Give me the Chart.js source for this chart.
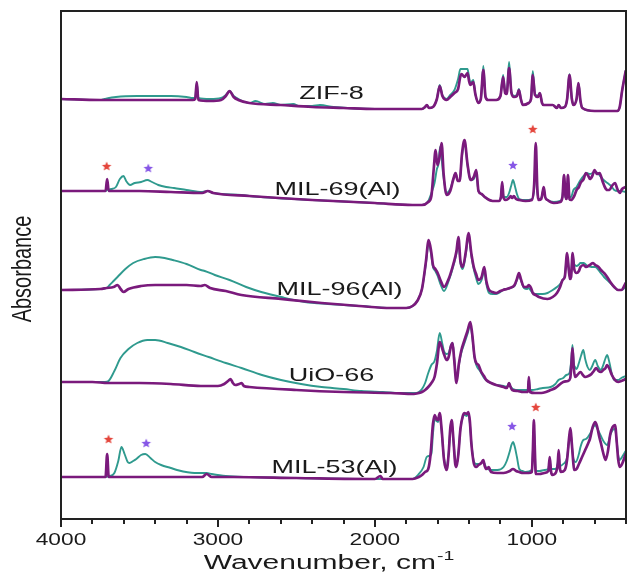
<!DOCTYPE html>
<html><head><meta charset="utf-8">
<script src="https://cdn.jsdelivr.net/npm/chart.js@4.4.1/dist/chart.umd.min.js"></script>
<style>html,body{margin:0;padding:0;background:#fff;}#wrap{width:632px;height:573px;}</style>
</head><body><div id="wrap"><canvas id="c" width="632" height="573"></canvas></div>
<script>
// ---- axis labels / names ----
const xTickLabels = [4000, 3000, 2000, 1000];
const sampleNames = ['ZIF-8', 'MIL-69(Al)', 'MIL-96(Al)', 'UiO-66', 'MIL-53(Al)'];
const sampleLabelAt = [[2276, 42.5], [2238, 32.9], [2225, 22.9], [2276, 14.3], [2257, 5.1]];

// ---- spectra: [wavenumber cm-1, stacked absorbance (a.u.)] ----
const zif8Purple = [[4000,42.0],[3750,41.9],[3400,41.9],[3160,41.9],[3145,42.0],[3135,43.7],[3125,41.9],[3050,41.8],[2980,41.9],[2950,42.3],[2926,42.8],[2900,42.2],[2870,41.9],[2800,41.6],[2600,41.4],[2400,41.2],[2200,41.1],[2000,41.0],[1800,41.0],[1700,41.0],[1680,41.2],[1669,41.4],[1655,41.1],[1630,41.2],[1605,42.0],[1587,43.3],[1570,42.3],[1543,41.9],[1520,42.2],[1493,42.6],[1470,43.0],[1455,44.3],[1448,44.5],[1429,44.2],[1410,44.6],[1400,43.8],[1392,43.4],[1373,43.7],[1360,42.5],[1341,41.6],[1325,42.0],[1309,44.9],[1295,42.2],[1278,41.9],[1227,41.9],[1200,42.3],[1183,44.2],[1170,42.6],[1160,42.5],[1145,45.1],[1130,42.6],[1114,42.2],[1095,42.3],[1082,42.9],[1070,42.0],[1057,41.4],[1020,41.6],[1005,42.0],[994,44.4],[980,42.4],[962,42.2],[949,42.6],[935,41.6],[924,41.4],[867,41.4],[840,41.1],[829,41.4],[815,41.1],[790,41.2],[775,42.0],[760,44.4],[745,42.0],[735,41.4],[715,42.0],[703,43.6],[690,41.8],[678,41.1],[600,40.8],[500,40.8],[455,40.8],[440,41.2],[425,42.8],[402,44.8]];
const zif8Teal = [[4000,42.0],[3750,41.9],[3722,42.0],[3650,42.2],[3514,42.3],[3400,42.3],[3300,42.3],[3200,42.2],[3160,42.1],[3145,42.1],[3135,43.6],[3125,42.1],[3050,42.0],[2980,42.1],[2950,42.4],[2926,42.8],[2900,42.3],[2870,42.0],[2800,41.6],[2760,41.8],[2700,41.5],[2650,41.6],[2600,41.4],[2520,41.5],[2480,41.3],[2400,41.3],[2350,41.4],[2263,41.2],[2000,41.0],[1800,41.0],[1700,41.0],[1680,41.2],[1669,41.4],[1655,41.1],[1630,41.2],[1605,42.0],[1587,43.4],[1570,42.4],[1543,42.0],[1520,42.4],[1493,42.9],[1470,44.0],[1455,45.0],[1430,45.0],[1410,45.0],[1400,44.2],[1392,43.6],[1373,43.9],[1360,42.5],[1341,41.7],[1325,42.0],[1309,45.3],[1295,42.2],[1278,41.9],[1227,41.9],[1200,42.3],[1183,44.4],[1170,42.7],[1160,42.6],[1145,45.7],[1130,42.7],[1114,42.3],[1095,42.4],[1082,43.0],[1070,42.0],[1057,41.4],[1020,41.6],[1005,42.1],[994,44.8],[980,42.5],[962,42.3],[949,42.6],[935,41.6],[924,41.4],[867,41.4],[840,41.1],[829,41.4],[815,41.1],[790,41.2],[775,42.0],[760,44.5],[745,42.0],[735,41.4],[715,42.0],[703,43.6],[690,41.8],[678,41.1],[600,40.8],[500,40.8],[455,40.8],[440,41.2],[425,42.8],[402,44.8]];

const mil69Purple = [[4000,32.8],[3760,32.8],[3716,32.8],[3706,34.0],[3696,32.8],[3500,32.8],[3300,32.7],[3100,32.6],[3065,32.8],[3030,32.6],[2800,32.3],[2400,31.9],[2000,31.6],[1760,31.4],[1700,31.4],[1660,31.7],[1640,32.3],[1625,35.0],[1613,36.9],[1602,35.4],[1590,36.0],[1575,37.6],[1562,34.5],[1543,32.4],[1520,32.8],[1500,34.0],[1486,34.6],[1472,33.8],[1460,33.8],[1445,36.5],[1429,37.9],[1410,35.5],[1390,33.9],[1370,34.2],[1354,34.9],[1340,32.8],[1320,32.5],[1300,32.2],[1250,31.8],[1210,31.8],[1197,32.2],[1189,33.7],[1180,32.1],[1165,31.9],[1145,32.1],[1135,32.3],[1125,32.1],[1115,32.3],[1100,32.0],[1080,31.9],[1040,31.8],[1000,31.9],[985,33.5],[975,37.6],[965,33.0],[955,31.9],[940,32.0],[930,32.8],[924,33.2],[915,32.2],[900,31.9],[860,31.6],[820,31.7],[805,32.2],[795,34.4],[785,32.2],[778,32.0],[770,34.4],[760,32.0],[750,31.9],[730,32.3],[715,32.9],[700,33.2],[690,33.6],[670,34.0],[655,34.6],[640,34.3],[630,34.0],[615,34.3],[600,34.9],[585,34.5],[568,34.6],[550,33.8],[535,33.2],[520,32.9],[505,32.9],[490,33.3],[470,33.6],[455,33.0],[440,32.6],[425,33.0],[402,33.2]];
const mil69Teal = [[4000,32.8],[3760,32.8],[3716,32.8],[3706,32.9],[3680,33.0],[3650,33.2],[3625,34.0],[3602,34.3],[3585,33.8],[3560,33.4],[3530,33.6],[3490,33.7],[3450,33.9],[3420,33.7],[3380,33.4],[3330,33.2],[3280,33.1],[3200,32.9],[3100,32.7],[3065,32.8],[3030,32.6],[2850,32.4],[2800,32.3],[2400,31.9],[2000,31.6],[1760,31.4],[1700,31.4],[1660,31.8],[1640,32.6],[1620,33.6],[1605,35.0],[1595,35.5],[1585,37.2],[1565,34.5],[1543,32.6],[1520,33.0],[1500,34.0],[1486,34.6],[1472,33.8],[1460,33.8],[1445,36.3],[1429,37.7],[1410,35.4],[1390,33.9],[1370,34.0],[1354,34.5],[1340,32.8],[1320,32.5],[1300,32.2],[1250,31.8],[1210,31.8],[1197,32.2],[1189,33.4],[1180,32.2],[1160,32.2],[1145,32.6],[1132,33.3],[1120,33.9],[1108,33.3],[1095,32.5],[1080,32.0],[1040,31.9],[1000,32.0],[985,33.0],[975,36.5],[965,32.8],[955,32.0],[940,32.1],[924,33.0],[915,32.2],[900,31.9],[860,31.7],[820,31.8],[805,32.2],[795,34.0],[785,32.2],[778,32.0],[770,34.0],[760,32.2],[750,32.2],[735,32.9],[715,33.2],[690,33.9],[670,34.3],[650,34.6],[630,34.5],[596,34.7],[575,34.5],[555,34.1],[535,33.8],[518,33.6],[495,33.3],[475,32.9],[450,32.8],[430,32.8],[402,32.7]];

const mil96Purple = [[4000,22.9],[3750,23.0],[3710,23.1],[3665,23.2],[3640,23.4],[3620,23.0],[3602,22.7],[3570,23.0],[3490,23.3],[3400,23.4],[3287,23.4],[3200,23.4],[3109,23.3],[3084,23.4],[3050,23.1],[2950,22.8],[2850,22.4],[2600,22.0],[2339,21.6],[2100,21.3],[1900,21.1],[1800,21.1],[1760,21.3],[1730,21.8],[1700,23.0],[1676,25.6],[1657,27.9],[1640,26.6],[1630,25.4],[1615,25.0],[1600,24.6],[1580,23.8],[1560,23.2],[1530,24.0],[1500,25.5],[1480,26.8],[1468,28.2],[1455,25.8],[1440,25.2],[1420,26.8],[1404,28.6],[1385,26.5],[1370,25.2],[1355,24.5],[1341,23.9],[1320,24.2],[1303,25.2],[1290,23.8],[1272,22.9],[1250,22.7],[1227,22.6],[1200,22.8],[1183,22.9],[1160,23.0],[1140,23.1],[1110,23.4],[1095,24.0],[1082,24.6],[1070,24.0],[1050,23.2],[1030,23.2],[1020,23.4],[1005,23.1],[994,22.6],[975,22.4],[955,22.2],[900,22.0],[867,22.2],[840,22.6],[820,23.2],[804,23.9],[790,24.2],[775,26.6],[765,25.0],[757,24.0],[750,24.2],[740,26.6],[730,25.0],[715,24.6],[700,24.8],[690,25.2],[670,25.4],[655,25.2],[630,25.4],[610,25.6],[596,25.4],[575,25.2],[560,24.9],[540,24.6],[520,24.2],[500,23.7],[475,23.2],[450,22.9],[430,22.9],[402,23.6]];
const mil96Teal = [[4000,22.9],[3750,23.0],[3710,23.1],[3690,23.4],[3665,23.8],[3640,24.2],[3590,25.0],[3540,25.6],[3470,26.0],[3400,26.2],[3340,26.1],[3287,25.9],[3200,25.5],[3109,24.9],[3084,24.8],[3020,24.4],[2926,23.9],[2820,23.2],[2724,22.7],[2598,22.2],[2446,21.7],[2300,21.5],[2086,21.3],[1900,21.1],[1800,21.1],[1760,21.3],[1730,21.8],[1700,23.0],[1676,25.4],[1657,27.6],[1640,26.3],[1630,25.2],[1615,24.8],[1600,24.3],[1580,23.4],[1560,22.8],[1530,23.8],[1500,25.3],[1480,26.6],[1468,27.9],[1455,25.6],[1440,25.0],[1420,26.6],[1404,28.3],[1385,26.3],[1370,25.0],[1355,24.1],[1341,23.5],[1320,23.9],[1303,24.9],[1290,23.5],[1272,22.6],[1250,22.5],[1227,22.5],[1200,22.7],[1183,22.9],[1160,23.0],[1140,23.1],[1110,23.3],[1095,23.9],[1082,24.4],[1070,23.9],[1050,23.1],[1030,23.0],[1020,23.1],[1005,22.8],[994,22.6],[960,22.5],[930,22.5],[900,22.6],[867,22.9],[840,23.2],[820,23.5],[804,23.9],[790,24.3],[775,26.3],[765,25.0],[757,24.3],[750,24.5],[740,26.3],[730,25.5],[715,25.3],[703,25.4],[690,25.6],[670,25.6],[645,25.3],[620,25.2],[596,25.2],[570,24.8],[540,24.2],[500,23.6],[470,23.1],[450,22.9],[430,22.9],[402,23.2]];

const uio66Purple = [[4000,13.7],[3800,13.7],[3700,13.6],[3500,13.6],[3300,13.5],[3109,13.3],[3000,13.3],[2960,13.5],[2935,13.8],[2920,14.0],[2905,13.6],[2890,13.4],[2865,13.5],[2850,13.6],[2835,13.3],[2800,13.2],[2500,12.9],[2200,12.7],[1900,12.6],[1752,12.5],[1720,12.6],[1700,12.7],[1680,12.9],[1660,13.2],[1640,13.6],[1620,14.2],[1605,15.5],[1587,17.7],[1570,17.0],[1560,16.5],[1543,15.9],[1530,16.2],[1515,17.3],[1505,17.6],[1495,16.0],[1480,13.6],[1465,15.5],[1450,16.8],[1429,17.9],[1410,18.8],[1392,19.7],[1380,18.5],[1365,16.2],[1354,15.6],[1340,15.4],[1322,14.7],[1305,14.3],[1290,13.9],[1260,13.6],[1227,13.4],[1180,13.2],[1160,13.1],[1150,13.4],[1145,13.6],[1138,13.3],[1125,12.9],[1090,12.8],[1057,12.7],[1025,12.7],[1019,14.2],[1012,12.7],[980,12.6],[940,12.6],[910,12.7],[880,12.9],[850,13.1],[800,13.7],[770,13.8],[755,14.1],[748,15.5],[741,17.1],[733,15.2],[725,14.2],[710,14.4],[690,14.7],[675,14.4],[660,14.2],[640,14.3],[620,14.5],[605,14.8],[590,15.1],[575,14.8],[560,14.7],[545,14.9],[530,15.1],[520,15.4],[505,15.0],[490,14.4],[470,13.9],[450,13.7],[430,13.8],[402,14.0]];
const uio66Teal = [[4000,13.7],[3800,13.7],[3720,13.7],[3697,13.8],[3660,14.8],[3621,16.1],[3570,17.0],[3514,17.6],[3450,17.9],[3400,17.9],[3320,17.6],[3236,17.2],[3150,16.7],[3059,16.2],[2950,15.6],[2850,15.1],[2720,14.4],[2598,13.9],[2470,13.5],[2339,13.2],[2200,13.0],[2086,12.8],[1950,12.7],[1834,12.6],[1752,12.6],[1720,12.7],[1700,13.0],[1680,13.6],[1660,14.6],[1640,15.4],[1620,15.8],[1605,16.8],[1587,18.6],[1570,17.5],[1560,16.8],[1543,16.5],[1530,16.6],[1515,17.4],[1505,17.6],[1495,16.2],[1480,13.9],[1465,15.4],[1450,16.6],[1429,17.6],[1410,18.5],[1392,19.4],[1380,18.3],[1365,16.2],[1354,15.4],[1330,14.8],[1300,14.0],[1260,13.6],[1227,13.4],[1180,13.3],[1160,13.2],[1145,13.6],[1138,13.3],[1120,13.0],[1080,12.9],[1040,12.9],[1025,12.9],[1019,13.9],[1012,12.9],[1000,12.9],[960,13.0],[930,13.1],[880,13.2],[850,13.5],[830,13.9],[800,14.1],[780,14.4],[760,14.6],[748,16.0],[741,17.4],[733,15.6],[725,15.2],[715,15.0],[700,15.6],[685,16.4],[672,16.9],[660,16.0],[645,15.2],[630,14.9],[615,15.3],[596,15.9],[580,15.3],[560,14.9],[545,15.4],[530,16.1],[520,16.4],[505,15.6],[490,14.5],[475,13.9],[450,13.9],[430,14.1],[402,14.3]];

const mil53Purple = [[4000,4.2],[3800,4.2],[3716,4.2],[3706,6.5],[3696,4.2],[3500,4.2],[3300,4.2],[3100,4.2],[3072,4.5],[3040,4.2],[2900,4.2],[2500,4.1],[2000,4.0],[1965,4.3],[1950,4.0],[1800,4.0],[1760,4.0],[1720,4.2],[1700,4.4],[1680,4.7],[1660,5.0],[1645,6.5],[1630,9.5],[1619,10.4],[1608,10.0],[1598,9.9],[1587,10.6],[1575,9.0],[1560,6.0],[1543,4.9],[1530,6.5],[1520,9.0],[1511,9.9],[1500,8.0],[1488,5.5],[1480,5.2],[1468,6.5],[1455,9.0],[1440,10.3],[1429,10.6],[1415,10.5],[1404,10.7],[1395,9.8],[1385,7.5],[1370,5.6],[1355,5.2],[1340,5.4],[1322,5.6],[1309,5.9],[1300,5.3],[1290,5.0],[1275,5.2],[1260,4.7],[1220,4.6],[1180,4.6],[1140,4.8],[1120,5.0],[1100,4.8],[1080,4.7],[1057,4.6],[1020,4.6],[1000,4.7],[993,7.0],[987,9.9],[981,7.0],[975,4.5],[950,4.5],[920,4.6],[895,4.8],[886,6.2],[878,4.8],[870,4.4],[845,4.7],[835,5.5],[829,6.9],[822,5.2],[815,4.7],[790,4.9],[775,6.0],[762,8.2],[754,9.1],[745,7.5],[735,5.5],[730,4.9],[715,5.0],[700,5.5],[680,6.2],[660,6.9],[640,7.6],[630,8.0],[612,9.2],[596,9.7],[585,9.3],[570,8.2],[560,7.6],[545,6.6],[530,5.9],[515,6.8],[500,8.5],[485,9.2],[470,9.4],[458,7.5],[450,6.0],[440,5.2],[425,5.5],[402,6.5]];
const mil53Teal = [[4000,4.2],[3800,4.2],[3720,4.2],[3690,4.3],[3660,4.6],[3635,5.8],[3615,7.2],[3595,6.5],[3575,5.7],[3564,5.6],[3540,5.8],[3520,6.0],[3490,6.4],[3463,6.5],[3430,6.1],[3400,5.7],[3362,5.4],[3300,5.1],[3261,4.9],[3150,4.6],[3072,4.6],[3040,4.5],[2950,4.3],[2800,4.2],[2500,4.1],[2000,4.0],[1800,4.0],[1760,4.0],[1720,4.5],[1690,5.2],[1670,6.2],[1655,6.3],[1640,6.5],[1630,8.5],[1619,10.0],[1608,9.8],[1598,9.7],[1587,10.4],[1575,8.8],[1560,6.1],[1543,5.2],[1530,6.6],[1520,8.8],[1511,9.7],[1500,7.9],[1488,5.7],[1480,5.4],[1468,6.6],[1455,9.0],[1440,10.2],[1429,10.4],[1415,10.3],[1404,10.5],[1395,9.6],[1385,7.6],[1370,5.8],[1355,5.5],[1340,5.5],[1322,5.6],[1309,5.7],[1290,5.1],[1260,4.9],[1220,4.9],[1180,5.2],[1160,5.8],[1140,6.8],[1130,7.4],[1120,7.7],[1110,7.3],[1095,6.2],[1080,5.0],[1060,4.8],[1040,4.7],[1000,4.9],[993,6.8],[987,9.4],[981,6.8],[975,4.8],[950,4.8],[920,4.9],[895,5.0],[886,5.8],[878,5.0],[850,5.0],[835,5.6],[829,6.5],[822,5.3],[800,5.5],[775,6.2],[762,8.0],[754,8.7],[745,7.4],[735,6.0],[720,5.7],[700,6.5],[690,7.2],[672,7.9],[655,8.0],[630,8.5],[612,9.1],[596,9.4],[585,9.1],[560,8.3],[540,7.7],[520,7.4],[500,8.4],[485,8.9],[470,9.0],[458,7.6],[450,6.4],[440,5.9],[425,6.2],[402,6.8]];

// ---- star markers ----
const redStars = [[3709,35.3],[994,39.0],[3697,8.0],[975,11.2]];
const violetStars = [[3444,35.1],[1120,35.4],[3457,7.6],[1126,9.3]];

// ---- styles ----
const PURPLE = '#7a1a7c';
const TEAL = '#2f9a8e';
const FONT = '"Liberation Sans", Arial, Helvetica, sans-serif';

function starImage(color, r) {
  const c = document.createElement('canvas');
  const s = Math.ceil(r * 2 + 2);
  c.width = s; c.height = s;
  const g = c.getContext('2d');
  g.translate(s / 2, s / 2 + 0.5);
  g.beginPath();
  for (let i = 0; i < 10; i++) {
    const rr = i % 2 === 0 ? r : r * 0.45;
    const a = -Math.PI / 2 + i * Math.PI / 5;
    g.lineTo(rr * Math.cos(a), rr * Math.sin(a));
  }
  g.closePath();
  g.fillStyle = color;
  g.fill();
  return c;
}

const toXY = arr => arr.map(p => ({ x: p[0], y: p[1] }));
const line = (arr, color, w, order) => ({
  data: toXY(arr), borderColor: color, borderWidth: w, pointRadius: 0,
  fill: false, cubicInterpolationMode: 'monotone', order,
  borderJoinStyle: 'round', borderCapStyle: 'round'
});

const datasets = [
  line(zif8Teal, TEAL, 1.9, 2), line(zif8Purple, PURPLE, 2.7, 1),
  line(mil69Teal, TEAL, 1.9, 2), line(mil69Purple, PURPLE, 2.7, 1),
  line(mil96Teal, TEAL, 1.9, 2), line(mil96Purple, PURPLE, 2.7, 1),
  line(uio66Teal, TEAL, 1.9, 2), line(uio66Purple, PURPLE, 2.7, 1),
  line(mil53Teal, TEAL, 1.9, 2), line(mil53Purple, PURPLE, 2.7, 1),
  { data: toXY(redStars), showLine: false, pointStyle: starImage('#e4463c', 5), pointRadius: 5, order: 0 },
  { data: toXY(violetStars), showLine: false, pointStyle: starImage('#8656e6', 5), pointRadius: 5, order: 0 }
];

function drawText(ctx, s, x, y, size, sx, align) {
  ctx.save();
  ctx.translate(x, y);
  ctx.scale(sx, 1);
  ctx.font = size + 'px ' + FONT;
  ctx.textAlign = align || 'center';
  ctx.textBaseline = 'middle';
  ctx.fillText(s, 0, 0);
  ctx.restore();
}

const decor = {
  id: 'decor',
  afterDatasetsDraw(chart) {
    const { ctx, chartArea: a, scales: { x, y } } = chart;
    ctx.save();
    ctx.fillStyle = '#1a1a1a';
    // sample names
    sampleNames.forEach((n, i) => {
      drawText(ctx, n, x.getPixelForValue(sampleLabelAt[i][0]), y.getPixelForValue(sampleLabelAt[i][1]), 18, 1.5);
    });
    // frame
    ctx.strokeStyle = '#222';
    ctx.lineWidth = 2;
    ctx.strokeRect(a.left, a.top, a.right - a.left, a.bottom - a.top);
    // ticks (major every 1000, minor every 200)
    for (let v = 4000; v >= 400; v -= 200) {
      const px = Math.round(x.getPixelForValue(v));
      const major = v % 1000 === 0;
      ctx.beginPath();
      ctx.moveTo(px, a.bottom);
      ctx.lineTo(px, a.bottom + (major ? 8 : 5));
      ctx.stroke();
    }
    // tick labels
    xTickLabels.forEach(v => drawText(ctx, String(v), x.getPixelForValue(v), a.bottom + 22, 16, 1.42));
    // x title
    ctx.font = '20px ' + FONT;
    const s1 = 'Wavenumber, cm';
    const w1 = ctx.measureText(s1).width * 1.5;
    ctx.font = '13px ' + FONT;
    const s2 = '-1';
    const w2 = ctx.measureText(s2).width * 1.5;
    const cx = (a.left + a.right) / 2 - 15;
    const x0 = cx - (w1 + w2) / 2;
    drawText(ctx, s1, x0, a.bottom + 44, 20, 1.5, 'left');
    drawText(ctx, s2, x0 + w1 + 1, a.bottom + 37, 13, 1.5, 'left');
    // y title
    ctx.save();
    ctx.translate(24, (a.top + a.bottom) / 2 + 4);
    ctx.rotate(-Math.PI / 2);
    ctx.scale(1, 1.35);
    ctx.font = '20px ' + FONT;
    ctx.textAlign = 'center';
    ctx.textBaseline = 'middle';
    ctx.fillText('Absorbance', 0, 0);
    ctx.restore();
    ctx.restore();
  }
};

new Chart(document.getElementById('c'), {
  type: 'line',
  data: { datasets },
  options: {
    responsive: false,
    animation: false,
    devicePixelRatio: 1,
    layout: { padding: { left: 0, right: 1, top: 11, bottom: 0 } },
    plugins: { legend: { display: false }, tooltip: { enabled: false } },
    scales: {
      x: {
        type: 'linear', reverse: true, min: 400, max: 4000,
        ticks: { display: false }, grid: { display: false }, border: { display: false },
        afterFit: s => { s.height = 54; }
      },
      y: {
        type: 'linear', min: 0, max: 50.8,
        ticks: { display: false }, grid: { display: false }, border: { display: false },
        afterFit: s => { s.width = 61; }
      }
    }
  },
  plugins: [decor]
});
</script>
</body></html>
